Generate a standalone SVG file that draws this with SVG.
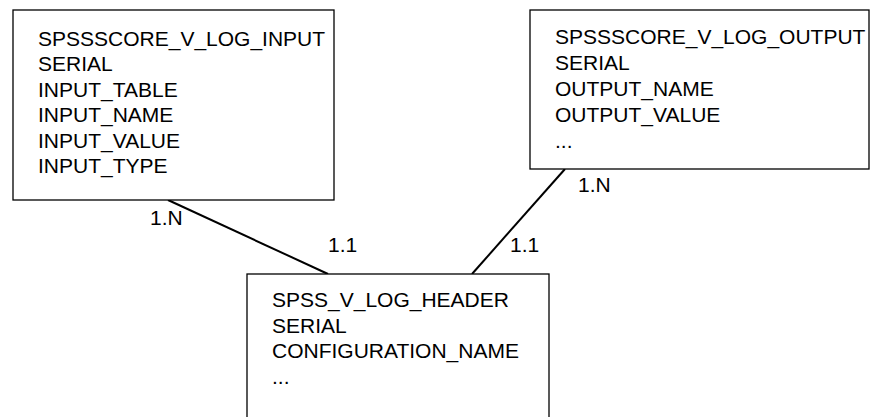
<svg xmlns="http://www.w3.org/2000/svg" width="872" height="417" viewBox="0 0 872 417">
<style>
.box{fill:#fff;stroke:#000;stroke-width:1.3}
text{font-family:"Liberation Sans",Arial,sans-serif;font-size:21px;fill:#000}
.conn line{stroke:#000;stroke-width:2}
</style>
<rect width="872" height="417" fill="#fff"/>
<g id="conn" class="conn">
<line x1="168" y1="200" x2="328" y2="274"/>
<line x1="472" y1="274" x2="565" y2="169"/>
</g>
<g id="input">
<rect class="box" x="13" y="10" width="321" height="190"/>
<text x="38" y="46">SPSSSCORE_V_LOG_INPUT</text>
<text x="38" y="71">SERIAL</text>
<text x="38" y="97">INPUT_TABLE</text>
<text x="38" y="122">INPUT_NAME</text>
<text x="38" y="148">INPUT_VALUE</text>
<text x="38" y="173">INPUT_TYPE</text>
</g>
<g id="output">
<rect class="box" x="530" y="10" width="339" height="159"/>
<text x="555" y="44">SPSSSCORE_V_LOG_OUTPUT</text>
<text x="555" y="70">SERIAL</text>
<text x="555" y="96">OUTPUT_NAME</text>
<text x="555" y="122">OUTPUT_VALUE</text>
<text x="555" y="148">...</text>
</g>
<g id="header">
<rect class="box" x="247" y="274" width="302" height="160"/>
<text x="272" y="307">SPSS_V_LOG_HEADER</text>
<text x="272" y="333">SERIAL</text>
<text x="272" y="358">CONFIGURATION_NAME</text>
<text x="272" y="384">...</text>
</g>
<g id="labels">
<text x="150" y="225">1.N</text>
<text x="328" y="252">1.1</text>
<text x="510" y="252">1.1</text>
<text x="578" y="192">1.N</text>
</g>
</svg>
